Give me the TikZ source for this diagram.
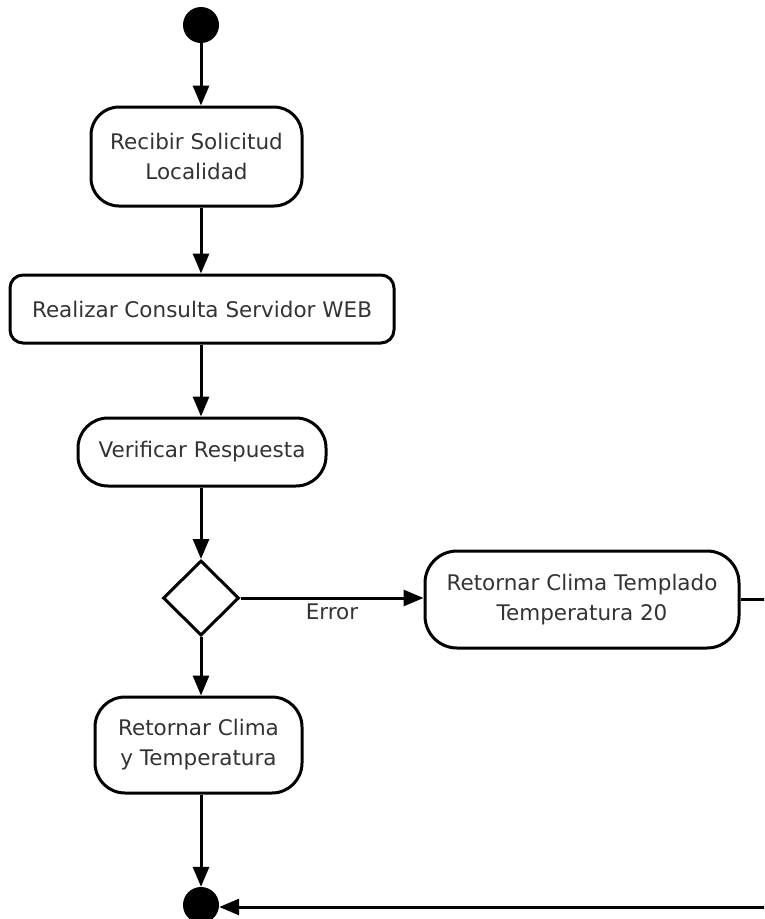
\documentclass[tikz,border=0pt]{standalone}
\usepackage{fontspec}
\setmainfont{DejaVu Sans}
\usetikzlibrary{arrows.meta,shapes.geometric}
\begin{document}
\begin{tikzpicture}[x=1pt,y=-1pt,
  every node/.style={font=\fontsize{21.5}{30}\selectfont, text=black!80},
  act/.style={draw=black, line width=3pt, fill=white, align=center, inner sep=0pt},
  flow/.style={draw=black, line width=3pt, -{Triangle[length=20pt,width=16pt]}},
  dot/.style={circle, fill=black, inner sep=0pt, minimum size=36pt},
  choice/.style={diamond, draw=black, line width=3pt, fill=white, inner sep=0pt, minimum width=76pt, minimum height=75pt, aspect=1}]
\useasboundingbox (0,0) rectangle (764,919);
\clip (0,0) rectangle (764,919);

% start and end points
\node[dot] (start) at (201,25) {};
\node[dot] (finish) at (201,905) {};

% activities
\node[act, rounded corners=28pt, minimum width=211pt, minimum height=99pt] (recv) at (196.5,156.5) {Recibir Solicitud\\Localidad};
\node[act, rounded corners=13pt, minimum width=384pt, minimum height=68pt] (query) at (202,309) {Realizar Consulta Servidor WEB};
\node[act, rounded corners=30pt, minimum width=248pt, minimum height=68pt] (check) at (202,452) {Verificar Respuesta};
\node[choice] (dec) at (201,598) {};
\node[act, rounded corners=32pt, minimum width=314pt, minimum height=97pt] (deflt) at (582,599.5) {Retornar Clima Templado\\Temperatura 20};
\node[act, rounded corners=30pt, minimum width=207pt, minimum height=96pt] (ret) at (198.5,745) {Retornar Clima\\y Temperatura};

\coordinate (rim) at (800,0);

% control flow
\draw[flow] (start) -- (start |- recv.north);
\draw[flow] (start |- recv.south) -- (start |- query.north);
\draw[flow] (start |- query.south) -- (start |- check.north);
\draw[flow] (start |- check.south) -- (dec.north);
\draw[flow] (dec.east) -- node[below=1pt, pos=0.5] {Error} (dec.east -| deflt.west);
\draw[flow] (dec.south) -- (dec.south |- ret.north);
\draw[flow] (start |- ret.south) -- (finish.north);
\draw[flow] (deflt.east) -- (deflt.east -| rim) |- ([yshift=-2pt]finish.east);
\end{tikzpicture}
\end{document}
